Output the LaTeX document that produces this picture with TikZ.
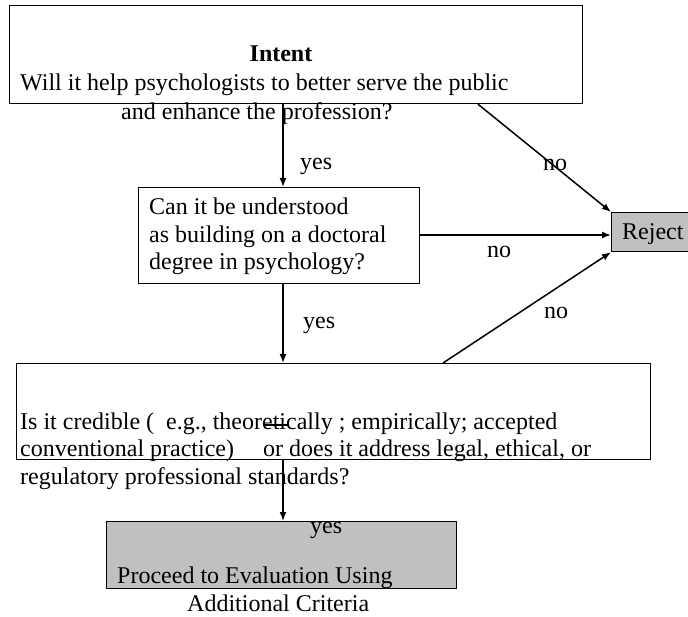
\documentclass[tikz,border=0pt]{standalone}
\usepackage{fontspec}
\setmainfont{Liberation Serif}
\usetikzlibrary{arrows.meta}
\definecolor{boxgray}{RGB}{192,192,192}
\begin{document}
\begin{tikzpicture}[x=1pt,y=-1pt,
  font=\fontsize{24}{27.6}\selectfont,
  box/.style={draw, line width=1.2pt, inner sep=0pt, anchor=north west},
  graybox/.style={box, fill=boxgray},
  lbl/.style={anchor=base west, inner sep=0pt},
  arr/.style={line width=1.5pt, -{Latex[length=9pt,width=7pt]}}]
\path[use as bounding box, clip] (0,0) rectangle (688,617);
% boxes
\node[box, minimum width=573pt, minimum height=98pt] (intent) at (9,5) {};
\node[box, minimum width=281pt, minimum height=96pt] (q2) at (138,187) {};
\node[graybox, minimum width=81pt, minimum height=39pt] (reject) at (611,212) {};
\node[box, minimum width=634pt, minimum height=96pt] (q3) at (16,363) {};
\node[graybox, minimum width=350pt, minimum height=67pt] (q4) at (106,521) {};
% texts
\node[anchor=base, inner sep=0pt, font=\fontsize{24}{27.6}\selectfont\bfseries] (intentT) at (281,62) {Intent};
\node[lbl] (intentA) at (20,91) {Will it help psychologists to better serve the public};
\node[lbl] (intentB) at (121,120) {and enhance the profession?};
\node[lbl] (q2A) at (149,215) {Can it be understood};
\node[lbl] (q2B) at (149,243) {as building on a doctoral};
\node[lbl] (q2C) at (149,270) {degree in psychology?};
\node[lbl] (rejT) at (622,240) {Reject};
\node[lbl] (q3A) at (20,429) {Is it credible (\enspace e.g., theoretically ; empirically; accepted};
\node[lbl] (q3B) at (20,456) {conventional practice)\hspace{29pt}or does it address legal, ethical, or};
\node[lbl] (q3C) at (20,484) {regulatory professional standards?};
\node[lbl] (q4A) at (117,583) {Proceed to Evaluation Using};
\node[lbl] (q4B) at (187,611) {Additional Criteria};
% connector labels
\node[lbl] (yes1) at (300,170) {yes};
\node[lbl] (no1) at (543,171) {no};
\node[lbl] (no2) at (487,258) {no};
\node[lbl] (yes2) at (303,329) {yes};
\node[lbl] (no3) at (544,319) {no};
\node[lbl] (yes3) at (310,533) {yes};
% stray stroke over "eti"
\draw[line width=1.2pt] (265,425) -- (289,425);
% connectors
\coordinate (cx) at (283,0);
\coordinate (dx1) at (478,0);
\coordinate (dx2) at (443,0);
\coordinate (hy) at (0,235);
\draw[arr] (intent.south -| cx) -- (q2.north -| cx);
\draw[arr] (intent.south -| dx1) -- (reject.north west);
\draw[arr] (q2.east |- hy) -- (reject.west |- hy);
\draw[arr] (q2.south -| cx) -- (q3.north -| cx);
\draw[arr] (q3.north -| dx2) -- (reject.south west);
\draw[arr] (q3.south -| cx) -- (q4.north -| cx);
\end{tikzpicture}
\end{document}
